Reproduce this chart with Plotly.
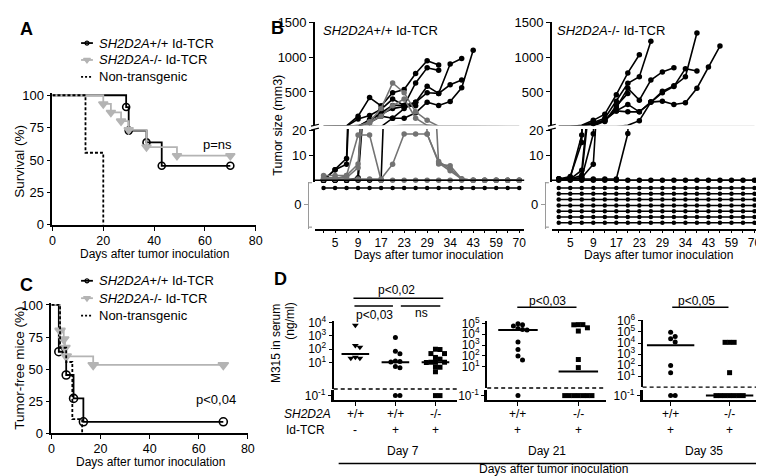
import math
import plotly.graph_objects as go

W, H = 764, 476
FONT = "Liberation Sans, Arial, sans-serif"

# ========================= DATA =========================
# Panel A: survival (%)
surv_wt_day = [0, 29, 30, 37, 43, 70]
surv_wt_pct = [100, 90.9, 72.7, 63.6, 45.5, 45.5]
surv_ko_day = [0, 20, 23, 27, 30, 37, 49, 70]
surv_ko_pct = [100, 93.3, 86.7, 80.0, 73.3, 60.0, 53.3, 53.3]
surv_ntg_day = [0, 13, 20]
surv_ntg_pct = [100, 55.6, 0]

# Panel C: tumor-free mice (%)
free_wt_day = [0, 3, 6, 9, 13, 70]
free_wt_pct = [100, 63.6, 45.5, 27.3, 9.1, 9.1]
free_ko_day = [0, 3.5, 5, 5.5, 6, 17, 70]
free_ko_pct = [100, 80.0, 73.3, 66.7, 60.0, 53.3, 53.3]
free_ntg_day = [0, 3.5, 6, 8.5, 12.5]
free_ntg_pct = [100, 66.7, 55.6, 11.1, 0]

km_x_ticks = [0, 20, 40, 60, 80]
km_y_ticks = [0, 25, 50, 75, 100]

# Panel B: tumor size (mm3) per measurement (18 time points)
B_n_points = 18
B_day_labels = ["5", "9", "17", "23", "29", "34", "43", "59", "70"]
B_label_index = [1, 3, 5, 7, 9, 11, 13, 15, 17]
B_upper_ticks = [500, 1000, 1500]
B_lower_ticks = [10, 20]

B_wt_progressors = [
    [0, 4.2, 8.7, 150, 420, 300, 490, 537, 767, 951, 891],
    [0, 4.2, 6.4, 110, 160, 250, 398, 306, 630, 850, 813],
    [0, 0, 0, 1, 90, 200, 306, 306, 352, 583, 480, 905, 984],
    [0, 0, 0, 0.5, 60, 150, 121, 260, 352, 490, 480, 605, 674],
    [0, 0, 0, 0, 0, 0, 121, 121, 200, 352, 306, 362, 560, 1103],
    [0, 0, 0, 0.5, 100, 180, 260, 290, 300],
]
B_wt_regressors = [
    [1.9, 1.9, 1.9, 18, 18, 0, 0, 0, 0, 0, 0, 0, 0, 0, 0, 0, 0, 0],
    [0.5, 0.5, 1.9, 6.5, 70, 260, 630, 490, 214, 90, 6.5, 5.8, 0.5, 0, 0, 0, 0, 0],
    [0.5, 0.5, 0.5, 0.5, 0.5, 0.5, 6.4, 18.4, 18.4, 18.4, 6.9, 3.8, 0.5, 0, 0, 0, 0, 0],
    [1, 1, 1, 5, 60, 150, 300, 400, 121, 18.4, 7.5, 4.5, 0.5, 0, 0, 0, 0, 0],
]
B_wt_tumor_free = 1

B_ko_progressors = [
    [0.5, 1.0, 18, 90, 180, 461, 776, 1038],
    [0.5, 1.5, 15, 60, 120, 368, 626, 720, 1235],
    [0.5, 0.5, 4, 50, 90, 227, 320, 213, 354, 510, 590, 720, 1353],
    [0.5, 0.5, 1, 18.5, 100, 227, 213, 213, 354, 490, 580, 837, 804],
    [0.5, 0.5, 0.5, 0.5, 0.5, 0.5, 18.6, 86, 354, 368, 320, 344, 555, 860, 1165],
    [0.5, 0.5, 1, 6.4, 80, 273, 555, 382, 672, 790, 851],
    [0.5, 0.5, 2, 45, 75, 300, 480],
]
B_ko_zero = [0, 0, 0, 0, 0, 0, 0, 0, 0, 0, 0, 0, 0, 0, 0, 0, 0, 0]
B_ko_tumor_free = 7

# Panel D: M315 in serum (ng/ml); 0.1 = undetectable
D7_genotype = ["+/+", "+/+", "-/-"]
D7_tcr = ["-", "+", "+"]
D7_values = [
    [6500, 190, 141, 25, 21, 21],
    [760, 70, 45, 13, 12, 11, 5, 4, 0.1, 0.1],
    [100, 95, 47, 47, 24, 18, 10.5, 10.5, 10.5, 10, 4.6, 4.4, 2.0, 0.1, 0.1],
]
D7_median = [44, 10.5, 10.5]

D21_genotype = ["+/+", "-/-"]
D21_tcr = ["+", "+"]
D21_values = [
    [98000, 79000, 60000, 35000, 28000, 25000, 1950, 390, 98, 40, 0.1],
    [79000, 79000, 76000, 40000, 20000, 45, 8, 0.1, 0.1, 0.1, 0.1, 0.1, 0.1, 0.1],
]
D21_median = [24500, 3.5]

D35_genotype = ["+/+", "-/-"]
D35_tcr = ["+", "+"]
D35_values = [
    [93000, 39000, 24000, 12300, 89, 19.5, 0.1, 0.1],
    [11500, 11500, 11500, 20.4, 0.1, 0.1, 0.1, 0.1, 0.1, 0.1, 0.1],
]
D35_median = [6300, 0.1]

UNDETECTABLE = 0.1

# ========================= HELPERS =========================
def xdom(a, b):
    return [a / W, b / W]


def ydom(top, bottom):
    return [1 - bottom / H, 1 - top / H]


BLACK = "black"
GRAY_KM = "#b4b4b4"
GRAY_B = "#737373"

fig = go.Figure()
annotations = []
shapes = []


def txt(s, x, y, size=12, xanchor="center", yanchor="middle", angle=0, xref="paper", color="black", bold=False):
    if bold:
        s = "<b>" + s + "</b>"
    annotations.append(dict(
        text=s, x=(x / W if xref == "paper" else x), y=1 - y / H, xref=xref, yref="paper",
        showarrow=False, xanchor=xanchor, yanchor=yanchor, textangle=angle,
        font=dict(size=size, color=color, family=FONT)))


def pline(x0, y0, x1, y1, width=1.5, color="black", dash=None):
    ln = dict(color=color, width=width)
    if dash:
        ln["dash"] = dash
    shapes.append(dict(type="line", xref="paper", yref="paper", x0=x0 / W, x1=x1 / W,
                       y0=1 - y0 / H, y1=1 - y1 / H, line=ln))


axis_base = dict(showline=True, linecolor=BLACK, linewidth=1.6, ticks="outside", ticklen=4,
                 tickwidth=1.3, tickcolor=BLACK, showgrid=False, zeroline=False, fixedrange=True,
                 tickfont=dict(size=13, color=BLACK, family=FONT))


def ax(**kw):
    d = dict(axis_base)
    d.update(kw)
    return d


layout_axes = {}

# ========================= PANEL A / C (Kaplan-Meier) =========================
def km_panel(xa, ya, series):
    for days, pct, color, dash, sym, msize in series:
        fig.add_trace(go.Scatter(x=days, y=pct, mode="lines", line=dict(color=color, width=1.8, shape="hv", dash=dash),
                                 xaxis=xa, yaxis=ya, showlegend=False, hoverinfo="skip"))
        if sym:
            fig.add_trace(go.Scatter(x=days[1:], y=pct[1:], mode="markers",
                                     marker=dict(symbol=sym, size=msize, color=color,
                                                 line=dict(color=color, width=1.6)),
                                     xaxis=xa, yaxis=ya, showlegend=False, cliponaxis=False, hoverinfo="skip"))


km_panel("x", "y", [
    (surv_wt_day, surv_wt_pct, BLACK, None, "circle-open", 7),
    (surv_ko_day, surv_ko_pct, GRAY_KM, None, "triangle-down", 8),
    (surv_ntg_day, surv_ntg_pct, BLACK, "3px,2px", None, 0),
])
km_panel("x2", "y2", [
    (free_wt_day, free_wt_pct, BLACK, None, "circle-open", 8),
    (free_ko_day, free_ko_pct, GRAY_KM, None, "triangle-down", 9),
    (free_ntg_day, free_ntg_pct, BLACK, "3px,2px", None, 0),
])

km_xfont = dict(size=12.5, color=BLACK, family=FONT)
layout_axes["xaxis"] = ax(domain=xdom(42, 248), range=[0, 80], anchor="y", tickvals=km_x_ticks,
                          tickfont=km_xfont, ticklabelstandoff=-1)
layout_axes["yaxis"] = ax(domain=ydom(80, 216), range=[0, 101.5], anchor="x", tickvals=km_y_ticks)
layout_axes["xaxis2"] = ax(domain=xdom(41, 240), range=[0, 80], anchor="y2", tickvals=km_x_ticks,
                           tickfont=km_xfont, ticklabelstandoff=-1)
layout_axes["yaxis2"] = ax(domain=ydom(297, 432), range=[0, 101.5], anchor="x2", tickvals=km_y_ticks)

# ========================= PANEL B =========================
def pad(s):
    return list(s) + [None] * (B_n_points - len(s))


B_idx = list(range(B_n_points))
B_upper_min = 20


def b_series(xa, ya_up, ya_mid, vals, color, msize=5.5):
    v = pad(vals)
    for ya in (ya_up, ya_mid):
        fig.add_trace(go.Scatter(x=B_idx, y=v, mode="lines", line=dict(color=color, width=1.6),
                                 xaxis=xa, yaxis=ya, showlegend=False, hoverinfo="skip"))
    up = [p if (p is not None and p >= B_upper_min) else None for p in v]
    lo = [p if (p is not None and p < B_upper_min) else None for p in v]
    fig.add_trace(go.Scatter(x=B_idx, y=up, mode="markers", marker=dict(size=msize, color=color),
                             xaxis=xa, yaxis=ya_up, showlegend=False, cliponaxis=False, hoverinfo="skip"))
    fig.add_trace(go.Scatter(x=B_idx, y=lo, mode="markers", marker=dict(size=msize, color=color),
                             xaxis=xa, yaxis=ya_mid, showlegend=False, cliponaxis=False, hoverinfo="skip"))


def b_lanes(xa, ya, count):
    for lane in range(1, count + 1):
        fig.add_trace(go.Scatter(x=B_idx, y=[lane] * B_n_points, mode="lines+markers",
                                 line=dict(color=BLACK, width=1.5), marker=dict(size=4.5, color=BLACK),
                                 xaxis=xa, yaxis=ya, showlegend=False, cliponaxis=False, hoverinfo="skip"))


# left (+/+)
for s in B_wt_progressors:
    b_series("x3", "y3", "y4", s, BLACK)
for s in B_wt_regressors:
    b_series("x3", "y3", "y4", s, GRAY_B)
b_lanes("x3", "y5", B_wt_tumor_free)
# right (-/-)
b_series("x4", "y6", "y7", B_ko_zero, BLACK)
for s in B_ko_progressors:
    b_series("x4", "y6", "y7", s, BLACK)
b_lanes("x4", "y8", B_ko_tumor_free)

lane_px = 6.0
lanes_top, lanes_bot = 172, 220
lane_label_val = (195 - lanes_top) / lane_px
B_tick_text_all = ["" for _ in B_idx]
for i, lab in zip(B_label_index, B_day_labels):
    B_tick_text_all[i] = lab


def b_axes(xn, yu, ym, yl, x0, x1, xr, bracket_x):
    layout_axes["xaxis" + xn] = ax(domain=xdom(x0, x1), range=xr, anchor="y" + yl,
                                   tickvals=B_idx, ticktext=B_tick_text_all, ticklen=3,
                                   ticklabelstandoff=-1,
                                   tickfont=dict(size=12, color=BLACK, family=FONT))
    layout_axes["yaxis" + yu] = ax(domain=ydom(6, 113), range=[20, 1515], anchor="x" + xn, tickvals=B_upper_ticks)
    layout_axes["yaxis" + ym] = ax(domain=ydom(117, 172), range=[-0.77, 20.38], anchor="x" + xn, tickvals=B_lower_ticks)
    layout_axes["yaxis" + yl] = ax(domain=ydom(lanes_top, lanes_bot), range=[(lanes_bot - lanes_top) / lane_px, 0],
                                   anchor="free", position=bracket_x / W, tickvals=[lane_label_val], ticktext=["0"],
                                   linecolor="#9a9a9a", linewidth=1.2, tickcolor="#9a9a9a")
    # zero line of the middle segment
    pline(x0, 170, x1, 170, width=1.6)
    # bracket tips
    pline(bracket_x, lanes_top + 0.5, bracket_x + 4, lanes_top + 0.5, width=1.2, color="#9a9a9a")
    pline(bracket_x, lanes_bot - 1.5, bracket_x + 4, lanes_bot - 1.5, width=1.2, color="#9a9a9a")
    # axis break marks
    pline(x0 - 4, 114, x0 + 4, 112, width=1.2)
    pline(x0 - 4, 118, x0 + 4, 116, width=1.2)


b_axes("3", "3", "4", "5", 308, 520, [-0.745, 17.43], 301)
b_axes("4", "6", "7", "8", 548, 762, [-0.6, 17.74], 541)

# ========================= PANEL D =========================
def sup_label(k):
    return "10<sup>%d</sup>" % k


def swarm(ypx, step):
    order = sorted(range(len(ypx)), key=lambda k: ypx[k])
    placed, offs = [], [0.0] * len(ypx)
    for k in order:
        chosen = None
        for j in range(0, 40):
            cands = [0.0] if j == 0 else [j * step, -j * step]
            for c in cands:
                if all((c - pc) ** 2 + (ypx[k] - py) ** 2 >= (step * 0.98) ** 2 for pc, py in placed):
                    chosen = c
                    break
            if chosen is not None:
                break
        placed.append((chosen, ypx[k]))
        offs[k] = chosen
    return offs


minor_axis_counter = [16]


def d_panel(xn, ym, yb, x0, x1, xr, main_dom, main_range, top_exp, groups, medians, symbols, med_half_px):
    ppc = (x1 - x0) / (xr[1] - xr[0])
    ppd = (main_dom[1] - main_dom[0]) / (main_range[1] - main_range[0])
    layout_axes["xaxis" + xn] = ax(domain=xdom(x0, x1), range=xr, anchor="y" + yb,
                                   tickvals=list(range(len(groups))), ticktext=[""] * len(groups),
                                   linewidth=2.2, ticklen=4)
    layout_axes["yaxis" + ym] = ax(domain=ydom(main_dom[0], main_dom[1]), type="log", range=main_range,
                                   anchor="x" + xn, tickvals=[10 ** k for k in range(1, top_exp + 1)],
                                   ticktext=[sup_label(k) for k in range(1, top_exp + 1)], linewidth=2.2,
                                   ticklen=3, tickfont=dict(size=12, color=BLACK, family=FONT))
    # minor ticks via an overlaying linear axis expressed in log10 units
    minor_logs = []
    for e in range(-1, top_exp + 1):
        for m in range(2, 10):
            lv = math.log10(m * 10 ** e)
            if main_range[0] <= lv <= main_range[1]:
                minor_logs.append(lv)
    mn = str(minor_axis_counter[0])
    minor_axis_counter[0] += 1
    layout_axes["yaxis" + mn] = dict(overlaying="y" + ym, anchor="x" + xn, range=main_range, type="linear",
                                     tickvals=minor_logs, ticktext=["" for _ in minor_logs], ticks="outside",
                                     ticklen=2, tickwidth=1, tickcolor=BLACK, showline=False, showgrid=False,
                                     zeroline=False, fixedrange=True, side="left")
    layout_axes["yaxis" + yb] = ax(domain=ydom(387.5, 397.5), type="log", range=[-1.47, -0.47],
                                   anchor="x" + xn, tickvals=[UNDETECTABLE], ticktext=["10<sup>-1</sup>"],
                                   linewidth=2.6, ticklen=3, tickfont=dict(size=12, color=BLACK, family=FONT))
    # detection-limit dashed line
    pline(x0, main_dom[1], x1, main_dom[1], width=1.4, dash="4px,3px")
    for gi, vals in enumerate(groups):
        main = [v for v in vals if v > UNDETECTABLE]
        und = [v for v in vals if v <= UNDETECTABLE]
        msz = 6 if symbols[gi] == "triangle-down" else 5
        if main:
            ypx = [-math.log10(v) * ppd for v in main]
            offs = swarm(ypx, 4.6)
            fig.add_trace(go.Scatter(x=[gi + o / ppc for o in offs], y=main, mode="markers",
                                     marker=dict(symbol=symbols[gi], size=msz, color=BLACK),
                                     xaxis="x" + xn, yaxis="y" + ym, showlegend=False, cliponaxis=False,
                                     hoverinfo="skip"))
        if und:
            offs = swarm([0.0] * len(und), 4.6)
            fig.add_trace(go.Scatter(x=[gi + o / ppc for o in offs], y=und, mode="markers",
                                     marker=dict(symbol=symbols[gi], size=msz, color=BLACK),
                                     xaxis="x" + xn, yaxis="y" + yb, showlegend=False, cliponaxis=False,
                                     hoverinfo="skip"))
        med = medians[gi]
        hw = med_half_px / ppc
        fig.add_trace(go.Scatter(x=[gi - hw, gi + hw], y=[med, med], mode="lines", line=dict(color=BLACK, width=2),
                                 xaxis="x" + xn, yaxis="y" + (ym if med > UNDETECTABLE else yb),
                                 showlegend=False, hoverinfo="skip", cliponaxis=False))


d_panel("5", "9", "10", 327, 452, [-0.54, 2.54], (316, 386), [-1.0, 4.1], 4, D7_values, D7_median,
        ["triangle-down", "circle", "square"], 14)
d_panel("6", "11", "12", 482.5, 603, [-0.51, 1.46], (316, 385), [-1.0, 5.2], 5, D21_values, D21_median,
        ["circle", "square"], 20)
d_panel("7", "13", "14", 640, 758, [-0.475, 1.5], (315, 384), [0.0, 6.05], 6, D35_values, D35_median,
        ["circle", "square"], 24)

# row labels for D
for xn, geno, tcr in (("x5", D7_genotype, D7_tcr), ("x6", D21_genotype, D21_tcr), ("x7", D35_genotype, D35_tcr)):
    for i, (g, t) in enumerate(zip(geno, tcr)):
        txt(g, i, 412, size=12, xref=xn)
        txt(t, i, 428, size=12, xref=xn)

# ========================= OVERLAY (legend swatches) =========================
layout_axes["xaxis8"] = dict(domain=[0, 1], range=[0, W], visible=False, anchor="y15", fixedrange=True)
layout_axes["yaxis15"] = dict(domain=[0, 1], range=[H, 0], visible=False, anchor="x8", fixedrange=True)


def legend_entry(y, color, dash, sym, msize):
    fig.add_trace(go.Scatter(x=[71, 83], y=[y, y], mode="lines", line=dict(color=color, width=1.8, dash=dash),
                             xaxis="x8", yaxis="y15", showlegend=False, hoverinfo="skip"))
    if sym:
        fig.add_trace(go.Scatter(x=[77], y=[y], mode="markers",
                                 marker=dict(symbol=sym, size=msize, color=color, line=dict(color=color, width=1.2)),
                                 xaxis="x8", yaxis="y15", showlegend=False, hoverinfo="skip", cliponaxis=False))


legend_names = ["<i>SH2D2A</i>+/+ Id-TCR", "<i>SH2D2A</i>-/- Id-TCR", "Non-transgenic"]
for ys in ((28, 45.5, 63), (274, 292, 310)):
    legend_entry(ys[0], BLACK, None, "circle-open", 4)
    legend_entry(ys[1], GRAY_KM, None, "triangle-down", 6)
    legend_entry(ys[2], BLACK, "2px,2px", None, 0)
    for yy, name in zip(ys, legend_names):
        txt(name, 87, yy, size=13, xanchor="left")

# ========================= TEXT =========================
txt("A", 7, 13, size=18, xanchor="left", bold=True)
txt("B", 261, 12, size=18, xanchor="left", bold=True)
txt("C", 7, 278, size=18, xanchor="left", bold=True)
txt("D", 264, 272, size=18, xanchor="left", bold=True)

txt("Survival (%)", 9, 150, size=13.5, angle=-90)
txt("Days after tumor inoculation", 145, 246, size=12)
txt("p=ns", 209, 133, size=13)

txt("Tumor-free mice (%)", 9, 364, size=13.5, angle=-90)
txt("Days after tumor inoculation", 141, 461, size=12)
txt("p<0,04", 208, 397, size=13)

txt("Tumor size (mm3)", 271, 113, size=12.5, angle=-90)
txt("<i>SH2D2A</i>+/+ Id-TCR", 314, 15, size=13, xanchor="left")
txt("<i>SH2D2A</i>-/- Id-TCR", 551, 15, size=13, xanchor="left")
txt("Days after tumor inoculation", 423, 247, size=12)
txt("Days after tumor inoculation", 656, 247, size=12)

txt("M315 in serum", 268, 339, size=12, angle=-90)
txt("(ng/ml)", 283, 316, size=12, angle=-90)
txt("<i>SH2D2A</i>", 275, 412, size=12, xanchor="left")
txt("Id-TCR", 277, 428, size=12, xanchor="left")
txt("Day 7", 397, 450, size=12)
txt("Day 21", 543, 450, size=12)
txt("Day 35", 702, 450, size=12)
pline(332, 463, 758, 463, width=1.5)
txt("Days after tumor inoculation", 550, 469, size=12)

# significance bars
pline(347, 292, 438, 292)
txt("p<0,02", 391, 284, size=12)
pline(348, 300, 387, 300)
txt("p<0,03", 368, 309, size=12)
pline(395, 300, 435, 300)
txt("ns", 416, 307, size=12)
pline(513, 301.5, 573, 301.5)
txt("p<0,03", 544, 295, size=12)
pline(670, 301.5, 727, 301.5)
txt("p<0,05", 695, 295, size=12)

fig.update_layout(
    width=W, height=H, margin=dict(l=0, r=0, t=0, b=0),
    paper_bgcolor="white", plot_bgcolor="rgba(0,0,0,0)",
    font=dict(family=FONT, color=BLACK, size=12),
    showlegend=False, annotations=annotations, shapes=shapes,
    **layout_axes,
)

fig.write_html("out.html")
